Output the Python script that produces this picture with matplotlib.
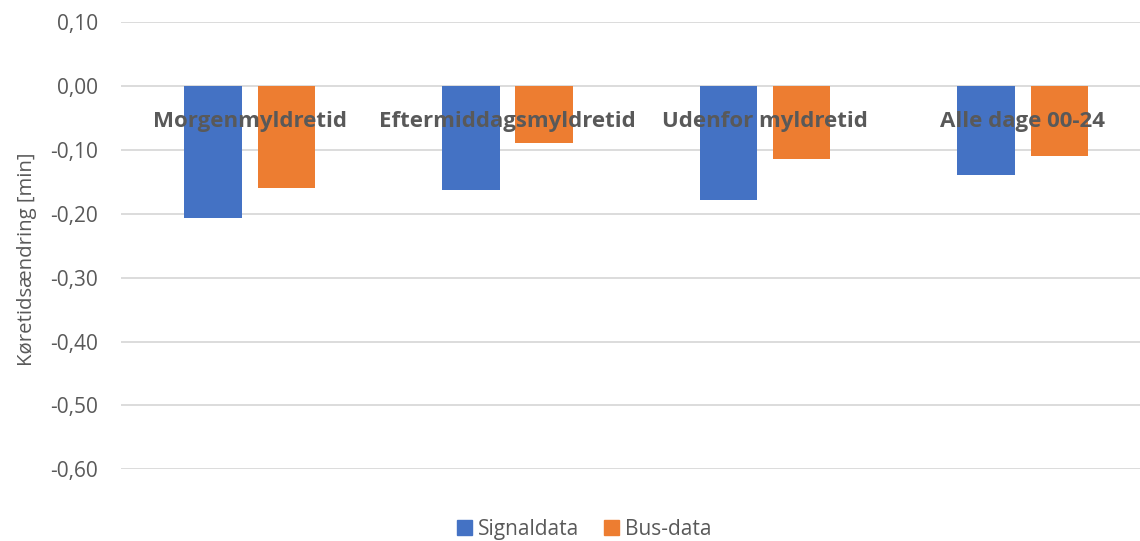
import numpy as np
import matplotlib.pyplot as plt
from matplotlib.patches import Patch

plt.rcParams['font.family'] = ['Open Sans', 'DejaVu Sans']

categories = ['Morgenmyldretid', 'Eftermiddagsmyldretid', 'Udenfor myldretid', 'Alle dage 00-24']
signaldata = [-0.206, -0.163, -0.178, -0.139]
busdata = [-0.159, -0.089, -0.114, -0.109]
yticks = [0.10, 0.00, -0.10, -0.20, -0.30, -0.40, -0.50, -0.60]

blue = '#4472C4'
orange = '#ED7D31'
grey = '#595959'

fig = plt.figure(figsize=(11.4, 5.41), dpi=100)
ax = fig.add_axes([0.106, 0.1327, 0.9042, 0.8261])

x = np.arange(len(categories))
w = 0.223
off = 0.142
ax.bar(x - off, signaldata, w, color=blue, zorder=3)
ax.bar(x + off, busdata, w, color=orange, zorder=3)

ax.set_xlim(-0.5, len(categories) - 0.5)
ax.set_ylim(-0.60, 0.10)
ax.set_yticks(yticks)
ax.set_yticklabels([f'{v:.2f}'.replace('.', ',') for v in yticks])
ax.tick_params(axis='y', length=0, pad=16.5, labelsize=15, labelcolor=grey)
ax.set_xticks([])
ax.grid(axis='y', color='#D9D9D9', linewidth=1.3, zorder=0)
for s in ax.spines.values():
    s.set_visible(False)

# category labels sit just under the zero line
for xi, name in zip(x, categories):
    ax.text(xi, -0.056, name, ha='center', va='center', fontsize=16,
            fontweight='bold', color=grey, zorder=4)

fig.text(0.024, 0.52, 'Køretidsændring [min]', rotation=90, ha='center',
         va='center', fontsize=14.7, color=grey)

handles = [Patch(color=blue, label='Signaldata'), Patch(color=orange, label='Bus-data')]
fig.legend(handles=handles, loc='center', bbox_to_anchor=(0.5127, 0.022), ncol=2,
           frameon=False, fontsize=15, labelcolor=grey, handlelength=0.7,
           handleheight=0.7, handletextpad=0.3, columnspacing=1.2,
           borderpad=0, borderaxespad=0)

fig.savefig('out.png', dpi=100)
